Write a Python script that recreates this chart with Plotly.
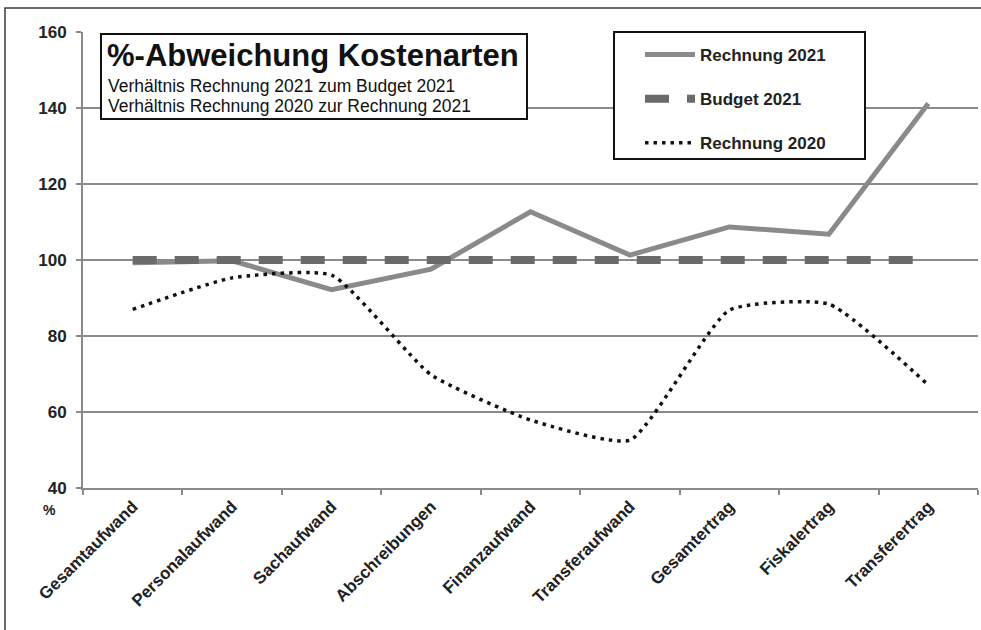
import plotly.graph_objects as go

categories = ["Gesamtaufwand", "Personalaufwand", "Sachaufwand", "Abschreibungen",
              "Finanzaufwand", "Transferaufwand", "Gesamtertrag", "Fiskalertrag", "Transferertrag"]
rechnung_2021 = [99.3, 99.8, 92.2, 97.6, 112.7, 101.3, 108.7, 106.8, 141.2]
budget_2021 = [100, 100, 100, 100, 100, 100, 100, 100, 100]
rechnung_2020 = [87.0, 95.3, 96.0, 69.8, 57.9, 52.6, 86.8, 88.4, 67.1]
y_ticks = [40, 60, 80, 100, 120, 140, 160]

W, H = 981, 630
L, R, T, B = 83, 3, 32, 142
PW, PH = W - L - R, H - T - B


def px(x):
    return (x - L) / PW


def py(y):
    return (H - B - y) / PH


FONT = "Liberation Sans, Arial"

fig = go.Figure()
fig.add_trace(go.Scatter(x=categories, y=rechnung_2021, mode="lines", name="Rechnung 2021",
                         legendgroup="a", line=dict(color="#8a8a8a", width=5)))
fig.add_trace(go.Scatter(x=categories, y=budget_2021, mode="lines", name="Budget 2021",
                         legendgroup="b", line=dict(color="#6a6a6a", width=8, dash="24px,18px")))
fig.add_trace(go.Scatter(x=categories, y=rechnung_2020, mode="lines", name="Rechnung 2020",
                         legendgroup="c",
                         line=dict(color="#111111", width=3.5, dash="3.5px,5px", shape="spline", smoothing=0.5)))

shapes = [
    # outer frame
    dict(type="rect", xref="paper", yref="paper", x0=px(5), x1=px(995), y0=py(650), y1=py(8),
         line=dict(color="#3a3a3a", width=1.5), fillcolor="rgba(0,0,0,0)", layer="below"),
    # title box
    dict(type="rect", xref="paper", yref="paper", x0=px(101), x1=px(527), y0=py(119), y1=py(34),
         line=dict(color="#111111", width=2), fillcolor="white", layer="above"),
    # legend box
    dict(type="rect", xref="paper", yref="paper", x0=px(614), x1=px(865), y0=py(159), y1=py(32),
         line=dict(color="#111111", width=2), fillcolor="white", layer="above"),
]

annotations = [
    dict(text="<b>%-Abweichung Kostenarten</b>", xref="paper", yref="paper", x=px(105), y=py(55),
         xanchor="left", yanchor="middle", showarrow=False,
         font=dict(family=FONT, size=31, color="#111111")),
    dict(text="Verhältnis Rechnung 2021 zum Budget 2021", xref="paper", yref="paper", x=px(106), y=py(86),
         xanchor="left", yanchor="middle", showarrow=False,
         font=dict(family=FONT, size=17.5, color="#111111")),
    dict(text="Verhältnis Rechnung 2020 zur Rechnung 2021", xref="paper", yref="paper", x=px(106), y=py(106),
         xanchor="left", yanchor="middle", showarrow=False,
         font=dict(family=FONT, size=17.5, color="#111111")),
    dict(text="<b>%</b>", xref="paper", yref="paper", x=px(49), y=py(510),
         xanchor="center", yanchor="middle", showarrow=False,
         font=dict(family=FONT, size=14, color="#222222")),
]

fig.update_layout(
    width=W, height=H,
    margin=dict(l=L, r=R, t=T, b=B, pad=0),
    paper_bgcolor="white", plot_bgcolor="white",
    font=dict(family=FONT, color="#222222"),
    showlegend=True,
    legend=dict(x=px(640), y=py(37), xanchor="left", yanchor="top",
                bgcolor="rgba(0,0,0,0)", borderwidth=0, itemwidth=50, tracegroupgap=19,
                font=dict(family=FONT, size=17, color="#222222", weight="bold")),
    shapes=shapes,
    annotations=annotations,
    xaxis=dict(type="category", range=[-0.5, 8.5], showgrid=False, showline=True, linecolor="#8a8a8a",
               linewidth=2, ticks="outside", tickson="boundaries", ticklen=5, tickwidth=2, tickcolor="#8a8a8a",
               tickangle=-45, tickfont=dict(size=17, weight="bold", color="#222222"), zeroline=False),
    yaxis=dict(range=[40, 160], tickvals=y_ticks, showgrid=True, gridcolor="#8a8a8a", gridwidth=2,
               showline=True, linecolor="#8a8a8a", linewidth=2, ticks="outside", ticklen=5, tickwidth=2,
               tickcolor="#8a8a8a", ticklabelstandoff=6,
               tickfont=dict(size=17, weight="bold", color="#222222"), zeroline=False),
)

fig.write_html("out.html", config={"displayModeBar": False},
               post_script="document.body.style.margin='0';")
